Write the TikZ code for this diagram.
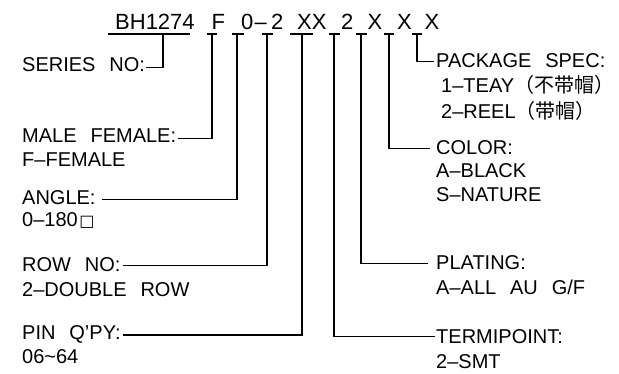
\documentclass[tikz,border=0pt]{standalone}
\usepackage{fontspec}
\setmainfont{Liberation Sans}[WordSpace=2.5]
\newfontfamily\cjkfont{Noto Sans CJK SC}
\newfontfamily\boxfont{DejaVu Sans}
\newcommand\lblfont{\fontsize{20}{22}\selectfont}
\newcommand\codefont{\fontsize{22}{24}\selectfont}
\tikzset{
  lbl/.style={font=\lblfont, inner sep=0pt, anchor=base west},
  code/.style={font=\codefont, inner sep=0pt, anchor=base west},
  conn/.style={line width=1.2pt, black},
  uline/.style={line width=1.2pt, black}
}
\begin{document}
\begin{tikzpicture}[x=1pt,y=-1pt]
\useasboundingbox (0,0) rectangle (619,374);
\fill[white] (0,0) rectangle (619,374);

% code tokens
\node[code] (c1) at (115,30) {BH1274};
\node[code] (c2) at (211.5,30) {F};
\node[code] (c3) at (241,30) {0};
\node[code] (c3d) at (254.5,30) {--};
\node[code] (c4) at (271,30) {2};
\node[code] (c5) at (297,30) {XX};
\node[code] (c6) at (341,30) {2};
\node[code] (c7) at (367.5,30) {X};
\node[code] (c8) at (397,30) {X};
\node[code] (c9) at (424.5,30) {X};

% underlines
\draw[uline] (108,34) -- (190,34);
\draw[uline] (207,34) -- (217,34);
\draw[uline] (232,34) -- (244,34);
\draw[uline] (262,34) -- (273,34);
\draw[uline] (290,34) -- (313,34);
\draw[uline] (329,34) -- (340,34);
\draw[uline] (356,34) -- (367,34);
\draw[uline] (384,34) -- (394,34);
\draw[uline] (412,34) -- (422,34);

\coordinate (u1) at (163,34);
\coordinate (u2) at (212,34);
\coordinate (u3) at (237,34);
\coordinate (u4) at (267,34);
\coordinate (u5) at (302,34);
\coordinate (u6) at (334,34);
\coordinate (u7) at (361,34);
\coordinate (u8) at (389,34);
\coordinate (u9) at (417,34);

% left labels
\node[lbl] (sn)  at (22,72)  {SERIES NO:};
\node[lbl] (mf)  at (22,143) {MALE FEMALE:};
\node[lbl] (mf2) at (22,167) {F--FEMALE};
\node[lbl] (an)  at (22,205) {ANGLE:};
\node[lbl] (an2) at (22,227) {0--180\kern1.5pt{\boxfont\fontsize{16}{16}\selectfont □}};
\node[lbl] (rn)  at (22,272) {ROW NO:};
\node[lbl] (rn2) at (22,297) {2--DOUBLE ROW};
\node[lbl] (pq)  at (22,340) {PIN Q'PY:};
\node[lbl] (pq2) at (22,363) {06\textasciitilde 64};

% right labels
\node[lbl] (ps)  at (436,68)  {PACKAGE SPEC:};
\node[lbl] (ps2) at (441,93)  {1--TEAY{\cjkfont （不带帽）}};
\node[lbl] (ps3) at (441,119) {2--REEL{\cjkfont （带帽）}};
\node[lbl] (co)  at (436,155) {COLOR:};
\node[lbl] (co2) at (436,178) {A--BLACK};
\node[lbl] (co3) at (436,202) {S--NATURE};
\node[lbl] (pl)  at (436,270) {PLATING:};
\node[lbl] (pl2) at (436,295) {A--ALL AU G/F};
\node[lbl] (tp)  at (436,343) {TERMIPOINT:};
\node[lbl] (tp2) at (436,368) {2--SMT};

% connectors
\draw[conn] (u1) |- ([xshift=1pt,yshift=-2pt]sn.east);
\draw[conn] (u2) |- ([xshift=2pt,yshift=-2pt]mf.east);
\draw[conn] (u3) |- ([xshift=6pt,yshift=-1pt]an.east);
\draw[conn] (u4) |- ([xshift=2pt]rn.east);
\draw[conn] (u5) |- ([xshift=2pt]pq.east);
\draw[conn] (u6) |- ([xshift=-1pt]tp.west);
\draw[conn] (u7) |- ([xshift=-8pt]pl.west);
\draw[conn] (u8) |- ([xshift=-6pt]co.west);
\draw[conn] (u9) |- ([xshift=-2pt]ps.west);
\end{tikzpicture}
\end{document}
